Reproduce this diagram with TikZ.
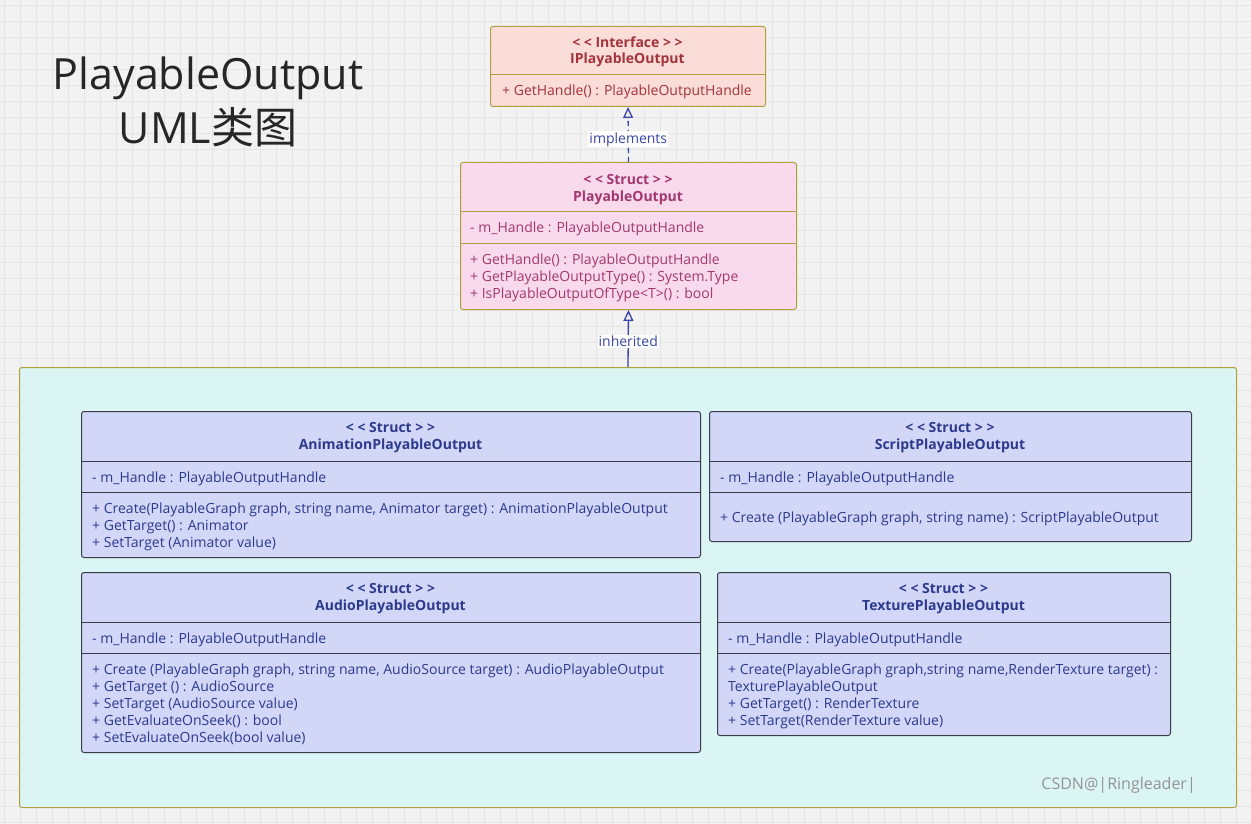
\documentclass[tikz,border=0pt]{standalone}
\usepackage{fontspec}
\setmainfont{Open Sans}
\newfontfamily\cjk{Noto Sans CJK SC}
\usetikzlibrary{arrows.meta,positioning}

\definecolor{bggray}{HTML}{F2F2F2}
\definecolor{gridgray}{HTML}{E5E5E5}
\definecolor{olivedraw}{HTML}{B19E3C}
\definecolor{ifacefill}{HTML}{FADCD9}
\definecolor{ifacetext}{HTML}{A3343B}
\definecolor{structfill}{HTML}{F9DAEC}
\definecolor{structtext}{HTML}{A2386F}
\definecolor{pkgfill}{HTML}{DAF5F3}
\definecolor{bluefill}{HTML}{D2D6F7}
\definecolor{bluetext}{HTML}{2C3A8E}
\definecolor{darkdraw}{HTML}{3A3C48}
\definecolor{arrowblue}{HTML}{3846A6}

% multi-line nodes sit on the baseline of their last line
\tikzset{
	box/.style={anchor=north west, inner sep=0pt, rounded corners=2.5pt, line width=1pt},
	ifacebox/.style={box, draw=olivedraw, fill=ifacefill},
	structbox/.style={box, draw=olivedraw, fill=structfill},
	classbox/.style={box, draw=darkdraw, fill=bluefill},
	pkgbox/.style={box, draw=olivedraw, fill=pkgfill},
	head/.style={anchor=base, align=center, inner sep=0pt, font=\fontsize{14}{16.5}\selectfont\bfseries},
	member/.style={anchor=base west, align=left, inner sep=0pt, font=\fontsize{14}{17}\selectfont},
	rel/.style={line width=1.3pt, color=arrowblue, -{Triangle[open, length=11pt, width=10pt, line width=1.3pt]}},
	rellabel/.style={fill=white, inner sep=1pt, text=arrowblue, font=\fontsize{14}{15}\selectfont},
}

\begin{document}
\begin{tikzpicture}[x=1pt, y=-1pt]
			%%%%% START %%%%%
			\useasboundingbox (0,0) rectangle (1251,824);
			\fill[bggray] (0,0) rectangle (1251,824);
			\foreach \gx in {4,20,...,1251} \draw[gridgray, line width=1pt] (\gx,0) -- (\gx,824);
			\foreach \gy in {6,22,...,824} \draw[gridgray, line width=1pt] (0,\gy) -- (1251,\gy);
			
			% title
			\node[anchor=base, align=center, inner sep=0pt, text=black!85, font=\fontsize{43}{54}\selectfont] (title) at (208,144) {PlayableOutput\\UML{\cjk 类图}};
			
			% interface
			\node[ifacebox, minimum width=275, minimum height=80] (iface) at (490,26) {};
			\draw[olivedraw, line width=1pt] (iface.west |- 0,75) -- (iface.east |- 0,75);
			\node[head, text=ifacetext] (ifaceHead) at (627.5,64) {< < Interface > >\\IPlayableOutput};
			\node[member, text=ifacetext] (ifaceOps) at (502,96) {+ GetHandle() : PlayableOutputHandle};
			
			% struct PlayableOutput
			\node[structbox, minimum width=336, minimum height=147] (struct) at (460,162) {};
			\draw[olivedraw, line width=1pt] (struct.west |- 0,211) -- (struct.east |- 0,211);
			\draw[olivedraw, line width=1pt] (struct.west |- 0,243) -- (struct.east |- 0,243);
			\node[head, text=structtext] (structHead) at (628,201) {< < Struct > >\\PlayableOutput};
			\node[member, text=structtext] (structAttr) at (470,233) {- m\_Handle : PlayableOutputHandle};
			\node[member, text=structtext] (structOps) at (470,298) {+ GetHandle() : PlayableOutputHandle\\+ GetPlayableOutputType() : System.Type\\+ IsPlayableOutputOfType<T>() : bool};
			
			% package
			\node[pkgbox, minimum width=1217, minimum height=440] (pkg) at (19,367) {};
			
			% AnimationPlayableOutput
			\node[classbox, minimum width=619, minimum height=146] (anim) at (81,411) {};
			\draw[darkdraw, line width=1pt] (anim.west |- 0,461) -- (anim.east |- 0,461);
			\draw[darkdraw, line width=1pt] (anim.west |- 0,492) -- (anim.east |- 0,492);
			\node[head, text=bluetext] (animHead) at (390.5,449) {< < Struct > >\\AnimationPlayableOutput};
			\node[member, text=bluetext] (animAttr) at (92,482) {- m\_Handle : PlayableOutputHandle};
			\node[member, text=bluetext] (animOps) at (92,547) {+ Create(PlayableGraph graph, string name, Animator target) : AnimationPlayableOutput\\+ GetTarget() : Animator\\+ SetTarget (Animator value)};
			
			% ScriptPlayableOutput
			\node[classbox, minimum width=482, minimum height=130] (script) at (709,411) {};
			\draw[darkdraw, line width=1pt] (script.west |- 0,461) -- (script.east |- 0,461);
			\draw[darkdraw, line width=1pt] (script.west |- 0,492) -- (script.east |- 0,492);
			\node[head, text=bluetext] (scriptHead) at (950,449) {< < Struct > >\\ScriptPlayableOutput};
			\node[member, text=bluetext] (scriptAttr) at (720,482) {- m\_Handle : PlayableOutputHandle};
			\node[member, text=bluetext] (scriptOps) at (720,522) {+ Create (PlayableGraph graph, string name) : ScriptPlayableOutput};
			
			% AudioPlayableOutput
			\node[classbox, minimum width=619, minimum height=180] (audio) at (81,572) {};
			\draw[darkdraw, line width=1pt] (audio.west |- 0,622) -- (audio.east |- 0,622);
			\draw[darkdraw, line width=1pt] (audio.west |- 0,653) -- (audio.east |- 0,653);
			\node[head, text=bluetext] (audioHead) at (390.5,610) {< < Struct > >\\AudioPlayableOutput};
			\node[member, text=bluetext] (audioAttr) at (92,643) {- m\_Handle : PlayableOutputHandle};
			\node[member, text=bluetext] (audioOps) at (92,742) {+ Create (PlayableGraph graph, string name, AudioSource target) : AudioPlayableOutput\\+ GetTarget () : AudioSource\\+ SetTarget (AudioSource value)\\+ GetEvaluateOnSeek() : bool\\+ SetEvaluateOnSeek(bool value)};
			
			% TexturePlayableOutput
			\node[classbox, minimum width=453, minimum height=163] (texture) at (717,572) {};
			\draw[darkdraw, line width=1pt] (texture.west |- 0,622) -- (texture.east |- 0,622);
			\draw[darkdraw, line width=1pt] (texture.west |- 0,653) -- (texture.east |- 0,653);
			\node[head, text=bluetext] (textureHead) at (943.5,610) {< < Struct > >\\TexturePlayableOutput};
			\node[member, text=bluetext] (textureAttr) at (728,643) {- m\_Handle : PlayableOutputHandle};
			\node[member, text=bluetext] (textureOps) at (728,725) {+ Create(PlayableGraph graph,string name,RenderTexture target) :\\TexturePlayableOutput\\+ GetTarget() : RenderTexture\\+ SetTarget(RenderTexture value)};
			
			% relations
			\draw[rel, dash pattern=on 5pt off 4pt] (struct.north) -- node[rellabel, pos=0.41] (implLabel) {implements} (iface.south);
			\draw[rel] (pkg.north) -- node[rellabel, pos=0.45] (inhLabel) {inherited} (struct.south);
			
			\node[anchor=base east, inner sep=0pt, text=black!42, font=\fontsize{16}{18}\selectfont] (mark) at (1196,789) {CSDN@|Ringleader|};
			%%%%% END %%%%%
\end{tikzpicture}
\end{document}
